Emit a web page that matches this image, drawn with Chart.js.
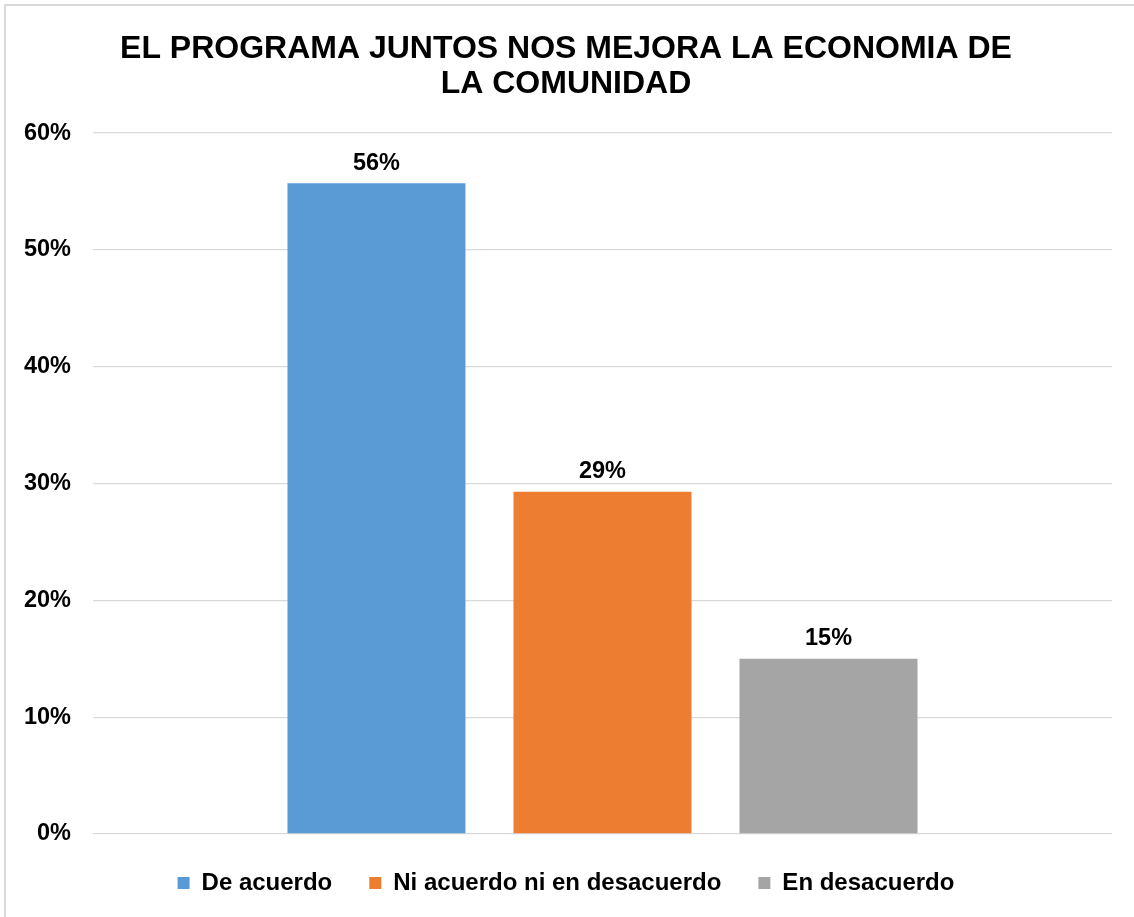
<!DOCTYPE html>
<html lang="es">
<head>
    <meta charset="UTF-8">
    <title>El programa Juntos nos mejora la economia de la comunidad</title>
    <script src="https://cdn.jsdelivr.net/npm/chart.js"></script>
    <style>
        body { margin: 0; background: #fff; }
        .frame {
            position: absolute; left: 4px; top: 4px;
            width: 1140px; height: 930px;
            border: 2px solid #d9d9d9;
        }
        .chart-box {
            position: absolute; left: 0; top: 0;
            width: 1134px; height: 917px;
        }
    </style>
</head>
<body>
    <div class="frame"></div>
    <div class="chart-box">
        <canvas id="juntosChart"></canvas>
    </div>

    <script>
        // values (percent)
        const categories = [''];
        const seriesNames = ['De acuerdo', 'Ni acuerdo ni en desacuerdo', 'En desacuerdo'];
        const deAcuerdo = [55.7];
        const niAcuerdo = [29.3];
        const enDesacuerdo = [15.0];
        const yTicks = [0, 10, 20, 30, 40, 50, 60];

        const seriesColors = ['#5B9BD5', '#ED7D31', '#A5A5A5'];
        const fontFamily = '"Liberation Sans", Arial, sans-serif';

        // value labels above each bar
        const barLabels = {
            id: 'barLabels',
            afterDatasetsDraw(chart) {
                const ctx = chart.ctx;
                ctx.save();
                ctx.font = 'bold 23.5px ' + fontFamily;
                ctx.fillStyle = '#000';
                ctx.textAlign = 'center';
                ctx.textBaseline = 'middle';
                chart.data.datasets.forEach((ds, i) => {
                    chart.getDatasetMeta(i).data.forEach((bar, j) => {
                        ctx.fillText(Math.round(ds.data[j]) + '%', bar.x, bar.y - 20);
                    });
                });
                ctx.restore();
            }
        };

        new Chart(document.getElementById('juntosChart'), {
            type: 'bar',
            data: {
                labels: categories,
                datasets: [
                    { label: seriesNames[0], data: deAcuerdo, backgroundColor: seriesColors[0] },
                    { label: seriesNames[1], data: niAcuerdo, backgroundColor: seriesColors[1] },
                    { label: seriesNames[2], data: enDesacuerdo, backgroundColor: seriesColors[2] }
                ]
            },
            options: {
                responsive: true,
                maintainAspectRatio: false,
                animation: false,
                categoryPercentage: 0.6654,
                barPercentage: 0.7876,
                layout: { padding: { top: 10, left: 20, right: 22, bottom: 12 } },
                plugins: {
                    title: {
                        display: true,
                        text: ['EL PROGRAMA JUNTOS NOS MEJORA LA ECONOMIA DE', 'LA COMUNIDAD'],
                        color: '#000',
                        font: { family: fontFamily, size: 32, weight: 'bold', lineHeight: 1.094 },
                        padding: { top: 21.5, bottom: 31.5 }
                    },
                    legend: {
                        position: 'bottom',
                        labels: {
                            boxWidth: 12,
                            boxHeight: 12,
                            padding: 37,
                            color: '#000',
                            font: { family: fontFamily, size: 24, weight: 'bold' }
                        }
                    },
                    tooltip: { enabled: false }
                },
                scales: {
                    x: { display: false },
                    y: {
                        min: 0,
                        max: 60,
                        afterBuildTicks(scale) {
                            scale.ticks = yTicks.map(v => ({ value: v }));
                        },
                        afterFit(scale) { scale.width = 73; },
                        border: { display: false },
                        grid: { color: '#d9d9d9', lineWidth: 1.3, drawTicks: false },
                        ticks: {
                            padding: 22,
                            color: '#000',
                            font: { family: fontFamily, size: 23.5, weight: 'bold' },
                            callback: v => v + '%'
                        }
                    }
                }
            },
            plugins: [barLabels]
        });
    </script>
</body>
</html>
